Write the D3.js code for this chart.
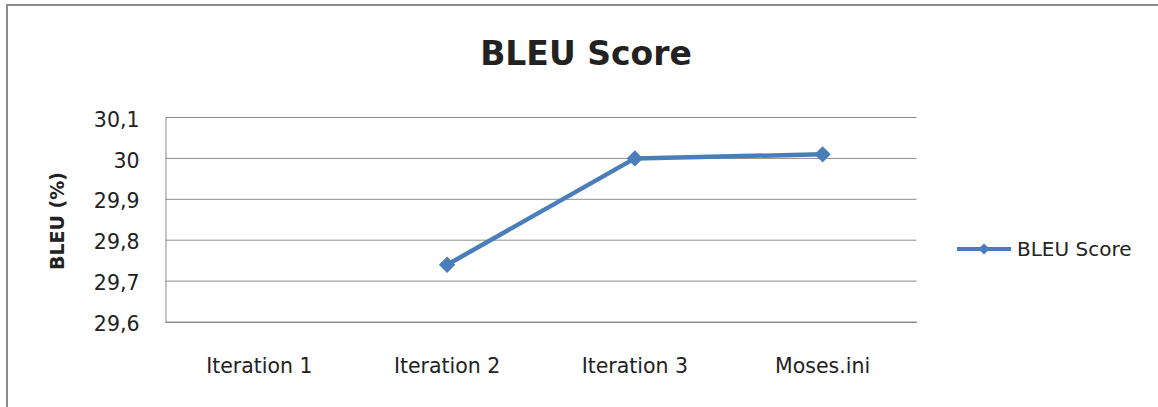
<!DOCTYPE html>
<html>
<head>
<meta charset="utf-8">
<script src="https://cdn.jsdelivr.net/npm/d3@7"></script>
<style>
  body { margin: 0; background: #fff; }
  text { font-family: "DejaVu Sans", sans-serif; fill: #222; }
</style>
</head>
<body>
<div id="chart"></div>
<script>
// data
const categories = ['Iteration 1', 'Iteration 2', 'Iteration 3', 'Moses.ini'];
const bleuValues = [null, 29.74, 30.0, 30.01];
const yTicks = [29.6, 29.7, 29.8, 29.9, 30.0, 30.1];
const seriesName = 'BLEU Score';

let width = 1158;
let height = 407;
const margin = {left: 165.5, right: 1158 - 916.5, top: 117.5, bottom: 407 - 322};
const blue = '#4a7ebb';

let svg = d3.select('#chart').append('svg')
    .attr('width', width)
    .attr('height', height);

// marco exterior
svg.append('rect')
    .attr('x', 7).attr('y', 5)
    .attr('width', width + 10).attr('height', height + 10)
    .attr('fill', 'none')
    .attr('stroke', '#8c8c8c')
    .attr('stroke-width', 2);

let x = d3.scaleBand()
    .domain(categories)
    .range([margin.left, width - margin.right]);

let y = d3.scaleLinear()
    .domain([29.6, 30.1])
    .range([height - margin.bottom, margin.top]);

const fmt = v => d3.format('.1f')(v).replace(/\.0$/, '').replace('.', ',');

// rejilla
svg.append('g')
    .selectAll('line')
    .data(yTicks)
    .enter()
    .append('line')
    .attr('x1', margin.left)
    .attr('x2', width - margin.right)
    .attr('y1', d => y(d))
    .attr('y2', d => y(d))
    .attr('stroke', '#8c8c8c')
    .attr('stroke-width', 1);

// eje y
let yAxis = svg.append('g')
    .attr('transform', `translate(${margin.left},0)`)
    .call(d3.axisLeft(y).tickValues(yTicks).tickFormat(fmt).tickSize(0).tickPadding(26));
yAxis.select('.domain').attr('stroke', '#8c8c8c');
yAxis.selectAll('text')
    .style('font-size', '20.5px')
    .attr('dy', '0.42em')
    .attr('fill', '#222');

// eje x
let xAxis = svg.append('g')
    .attr('transform', `translate(0,${height - margin.bottom})`)
    .call(d3.axisBottom(x).tickSize(0).tickPadding(36));
xAxis.select('.domain').attr('stroke', '#8c8c8c');
xAxis.selectAll('text').style('font-size', '20.5px').attr('fill', '#222');

// título
svg.append('text')
    .attr('x', 586)
    .attr('y', 65)
    .attr('text-anchor', 'middle')
    .style('font-size', '33px')
    .style('font-weight', 'bold')
    .attr('fill', '#000')
    .text('BLEU Score');

// etiqueta eje y
svg.append('text')
    .attr('transform', 'translate(64,221) rotate(-90)')
    .attr('text-anchor', 'middle')
    .style('font-size', '19px')
    .style('font-weight', 'bold')
    .attr('fill', '#000')
    .text('BLEU (%)');

// serie
let points = categories.map((c, i) => ({cat: c, value: bleuValues[i]}));
let line = d3.line()
    .defined(d => d.value != null)
    .x(d => x(d.cat) + x.bandwidth() / 2)
    .y(d => y(d.value));

svg.append('path')
    .datum(points)
    .attr('d', line)
    .attr('fill', 'none')
    .attr('stroke', blue)
    .attr('stroke-width', 4.5)
    .attr('stroke-linejoin', 'round');

let diamond = d3.symbol().type(d3.symbolDiamond2).size(170);

svg.append('g')
    .selectAll('path')
    .data(points.filter(d => d.value != null))
    .enter()
    .append('path')
    .attr('d', diamond)
    .attr('transform', d => `translate(${x(d.cat) + x.bandwidth() / 2},${y(d.value)})`)
    .attr('fill', blue);

// leyenda
let legend = svg.append('g').attr('transform', 'translate(957,249)');
legend.append('line')
    .attr('x1', 0).attr('x2', 54)
    .attr('stroke', blue)
    .attr('stroke-width', 4);
legend.append('path')
    .attr('d', d3.symbol().type(d3.symbolDiamond2).size(80))
    .attr('transform', 'translate(27,0)')
    .attr('fill', blue);
legend.append('text')
    .attr('x', 60)
    .attr('y', 7)
    .style('font-size', '20px')
    .text(seriesName);
</script>
</body>
</html>
